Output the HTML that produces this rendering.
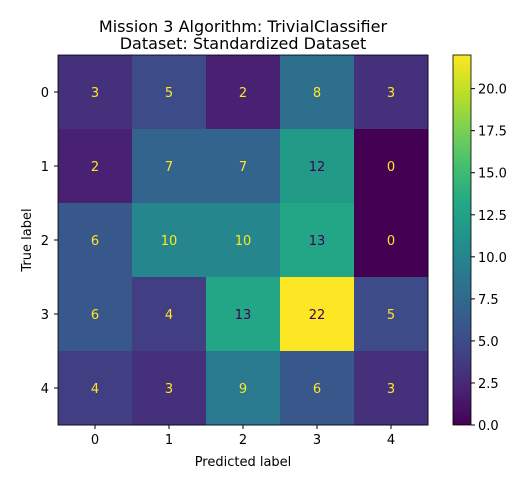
<!DOCTYPE html>
<html><head><meta charset="utf-8"><style>
body{margin:0;background:#fff}
svg{font-family:"DejaVu Sans","Liberation Sans",sans-serif}
</style></head><body>
<svg id="chart" width="531" height="488" xmlns="http://www.w3.org/2000/svg">
<text x="243" y="32" font-size="16" text-anchor="middle">Mission 3 Algorithm: TrivialClassifier</text>
<text x="243" y="49" font-size="16" text-anchor="middle">Dataset: Standardized Dataset</text>
<g id="cells"></g>
<g id="axes"></g>
<text x="243" y="466" font-size="13" text-anchor="middle">Predicted label</text>
<text x="0" y="0" font-size="13" text-anchor="middle" transform="translate(31,240) rotate(-90)">True label</text>
<defs><linearGradient id="vg" x1="0" y1="1" x2="0" y2="0"></linearGradient></defs>
<rect x="453" y="55" width="18" height="370" fill="url(#vg)" stroke="#000" stroke-width="0.8"/>
<g id="cbar"></g>
</svg>
<script>
const classes = ["0","1","2","3","4"];
const matrix = [
 [3,5,2,8,3],
 [2,7,7,12,0],
 [6,10,10,13,0],
 [6,4,13,22,5],
 [4,3,9,6,3]
];
const cbarTicks = [0,2.5,5,7.5,10,12.5,15,17.5,20];
const vmin = 0, vmax = 22;
const viridis = ["#440154","#482475","#414487","#355f8d","#2a788e","#21918c","#22a884","#44bf70","#7ad151","#bddf26","#fde725"];
function hex(c){return [1,3,5].map(i=>parseInt(c.substr(i,2),16));}
function cmap(t){t=Math.max(0,Math.min(1,t));const p=t*(viridis.length-1),i=Math.min(Math.floor(p),viridis.length-2),f=p-i;
 const a=hex(viridis[i]),b=hex(viridis[i+1]);return "rgb("+a.map((v,k)=>Math.round(v+(b[k]-v)*f)).join(",")+")";}
const NS="http://www.w3.org/2000/svg";
const X0=58,Y0=55,W=370,H=370,n=classes.length,cw=W/n,ch=H/n;
const xs=j=>X0+j*cw, ys=i=>Y0+i*ch;
function el(t,a,p){const e=document.createElementNS(NS,t);for(const k in a)e.setAttribute(k,a[k]);p.appendChild(e);return e;}
const cells=document.getElementById("cells"),axes=document.getElementById("axes"),cb=document.getElementById("cbar");
matrix.forEach((row,i)=>row.forEach((v,j)=>{
 const r=el("rect",{x:xs(j),y:ys(i),width:cw+0.5,height:ch+0.5,fill:cmap((v-vmin)/(vmax-vmin))},cells);
 
 
 const t=el("text",{x:xs(j)+cw/2,y:ys(i)+ch/2+5,"font-size":13,"text-anchor":"middle",fill:v<(vmax+vmin)/2?"#fde725":"#440154"},cells);
 t.textContent=v;
 
 
}));
const fr=el("rect",{x:X0,y:Y0,width:W,height:H,fill:"none",stroke:"#000","stroke-width":0.8},axes);


classes.forEach((c,k)=>{
 el("line",{x1:xs(k)+cw/2,x2:xs(k)+cw/2,y1:Y0+H,y2:Y0+H+4,stroke:"#000"},axes);
 const tx=el("text",{x:xs(k)+cw/2,y:Y0+H+19,"font-size":13,"text-anchor":"middle"},axes);tx.textContent=c;
 
 
 el("line",{x1:X0-4,x2:X0,y1:ys(k)+ch/2,y2:ys(k)+ch/2,stroke:"#000"},axes);
 const ty=el("text",{x:X0-9,y:ys(k)+ch/2+5,"font-size":13,"text-anchor":"end"},axes);ty.textContent=c;
 
 
});
const g=document.getElementById("vg");
viridis.forEach((c,k)=>el("stop",{offset:(k/(viridis.length-1)),"stop-color":c},g));
const cy=v=>425-(v-vmin)/(vmax-vmin)*370;
cbarTicks.forEach(v=>{
 el("line",{x1:471,x2:475,y1:cy(v),y2:cy(v),stroke:"#000"},cb);
 const t=el("text",{x:478,y:cy(v)+5,"font-size":13},cb);t.textContent=v.toFixed(1);
 
 
});
</script>
</body></html>
